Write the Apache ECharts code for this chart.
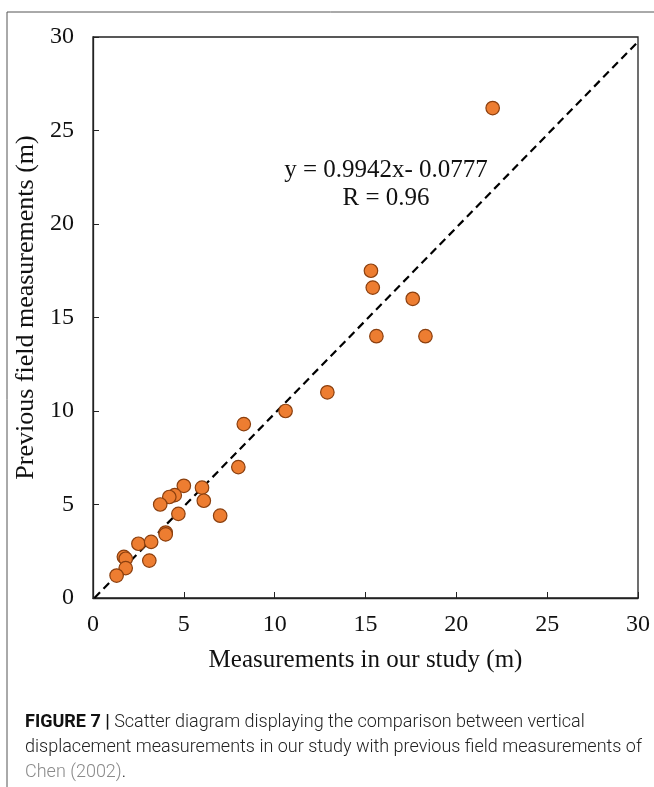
<!DOCTYPE html>
<html>
<head>
<meta charset="utf-8">
<script src="https://cdn.jsdelivr.net/npm/echarts@6/dist/echarts.min.js"></script>
<style>
  html, body { margin: 0; padding: 0; background: #fff; }
  #chart { width: 654px; height: 787px; }
</style>
</head>
<body>
<div id="chart"></div>
<script>
// our study (x) vs previous field measurements (y), in metres
const ourStudy = [22.0, 15.3, 15.4, 17.6, 15.6, 18.3, 12.9, 10.6, 8.3, 8.0,
                  5.0, 6.0, 4.5, 4.2, 3.7, 6.1, 4.7, 7.0, 4.0, 4.0,
                  2.5, 3.2, 3.1, 1.7, 1.8, 1.8, 1.3]
const previous = [26.2, 17.5, 16.6, 16.0, 14.0, 14.0, 11.0, 10.0, 9.3, 7.0,
                  6.0, 5.9, 5.5, 5.4, 5.0, 5.2, 4.5, 4.4, 3.5, 3.4,
                  2.9, 3.0, 2.0, 2.2, 2.1, 1.6, 1.2]
const slope = 0.9942
const intercept = -0.0777
const axisTicks = [0, 5, 10, 15, 20, 25, 30]

let points = []
for (var i = 0; i < ourStudy.length; i++) {
    points.push([ourStudy[i], previous[i]])
}
// fitted line across the axis range
let xMax = axisTicks[axisTicks.length - 1]
let fitLine = [
    [-intercept / slope, 0],
    [xMax, slope * xMax + intercept]
]

const serif = '"Liberation Serif", "DejaVu Serif", serif'
const sans = 'Roboto, "Liberation Sans", sans-serif'

let myChart = echarts.init(document.getElementById('chart'))
myChart.setOption({
    animation: false,
    backgroundColor: '#fff',
    grid: {
        left: 93, right: 16, top: 37, bottom: 189,
        show: true, borderColor: '#222', borderWidth: 1.3
    },
    xAxis: {
        type: 'value', min: 0, max: 30, interval: 5,
        name: 'Measurements in our study (m)',
        nameLocation: 'middle', nameGap: 50,
        nameTextStyle: { fontFamily: serif, fontSize: 25, color: '#111' },
        axisLine: { lineStyle: { color: '#222', width: 1.3 } },
        axisTick: { inside: true, length: 6, lineStyle: { color: '#222' } },
        axisLabel: { fontFamily: serif, fontSize: 24, color: '#111', margin: 15 },
        splitLine: { show: false }
    },
    yAxis: {
        type: 'value', min: 0, max: 30, interval: 5,
        name: 'Previous field measurements (m)',
        nameLocation: 'middle', nameGap: 46,
        nameTextStyle: { fontFamily: serif, fontSize: 26, color: '#111', padding: [0, 0, 0, 20] },
        axisLine: { show: true, lineStyle: { color: '#222', width: 1.3 } },
        axisTick: { show: true, inside: true, length: 6, lineStyle: { color: '#222' } },
        axisLabel: { fontFamily: serif, fontSize: 24, color: '#111', margin: 19 },
        splitLine: { show: false }
    },
    series: [
        {
            type: 'line',
            data: fitLine,
            symbol: 'none',
            lineStyle: { color: '#000', width: 2.2, type: [8, 5] },
            z: 2
        },
        {
            type: 'scatter',
            data: points,
            symbolSize: 13.5,
            itemStyle: { color: '#ED7D31', borderColor: '#8B3F0E', borderWidth: 1.2, opacity: 1 },
            z: 3
        }
    ],
    graphic: [
        // page frame (top and left edges)
        { type: 'line', shape: { x1: 7, y1: 12, x2: 654, y2: 12 }, style: { stroke: '#555', lineWidth: 1 } },
        { type: 'line', shape: { x1: 7, y1: 12, x2: 7, y2: 787 }, style: { stroke: '#555', lineWidth: 1 } },
        {
            type: 'text', x: 386, y: 156,
            style: {
                text: 'y = 0.9942x- 0.0777\nR = 0.96',
                font: '25px ' + serif, fill: '#111', align: 'center', lineHeight: 28
            }
        },
        {
            type: 'text', left: 25, top: 710,
            style: {
                text: '{b|FIGURE 7 |} Scatter diagram displaying the comparison between vertical\n' +
                      'displacement measurements in our study with previous field measurements of\n' +
                      '{g|Chen (2002)}.',
                font: '300 18px ' + sans, fill: '#222', lineHeight: 25,
                rich: {
                    b: { font: 'bold 18px ' + sans, fill: '#111', lineHeight: 25 },
                    g: { font: '300 18px ' + sans, fill: '#8a8a8a', lineHeight: 25 }
                }
            }
        }
    ]
})
</script>
</body>
</html>
